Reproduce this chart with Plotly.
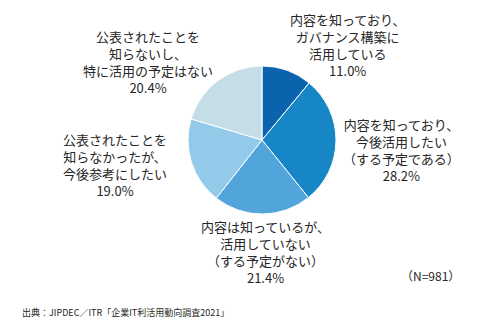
import plotly.graph_objects as go

# Survey answers, clockwise from 12 o'clock
categories = [
    "内容を知っており、<br>ガバナンス構築に<br>活用している",
    "内容を知っており、<br>今後活用したい<br>（する予定である）",
    "内容は知っているが、<br>活用していない<br>（する予定がない）",
    "公表されたことを<br>知らなかったが、<br>今後参考にしたい",
    "公表されたことを<br>知らないし、<br>特に活用の予定はない",
]
shares = [11.0, 28.2, 21.4, 19.0, 20.4]
slice_colors = ["#0b63ad", "#1686c6", "#52a5da", "#93c9e9", "#c5dde7"]

sample_note = "（N=981）"
source_note = "出典：JIPDEC／ITR「企業IT利活用動向調査2021」"

W, H = 500, 324
cx, cy, r = 262, 140, 74  # pie centre and radius in pixels (from top-left)

font_family = "Noto Sans CJK JP, Noto Sans, sans-serif"
text_color = "#262626"

fig = go.Figure(
    go.Pie(
        values=shares,
        labels=[c.replace("<br>", "") for c in categories],
        sort=False,
        direction="clockwise",
        rotation=0,
        marker=dict(colors=slice_colors, line=dict(color="#ffffff", width=1)),
        textinfo="none",
        hoverinfo="label+percent",
        showlegend=False,
        domain=dict(
            x=[(cx - r) / W, (cx + r) / W],
            y=[(H - cy - r) / H, (H - cy + r) / H],
        ),
    )
)

# centre of each label block, in pixels from top-left
label_pos = [(347, 45), (401, 150), (265, 252), (115, 165), (148, 62)]

for text, val, (x, y) in zip(categories, shares, label_pos):
    fig.add_annotation(
        x=x / W, y=1 - y / H, xref="paper", yref="paper",
        xanchor="center", yanchor="middle",
        text=f"{text}<br>{val:.1f}%",
        showarrow=False, align="center",
        font=dict(family=font_family, size=13, color=text_color),
    )

fig.add_annotation(
    x=430 / W, y=1 - 275 / H, xref="paper", yref="paper",
    xanchor="center", yanchor="middle", text=sample_note, showarrow=False,
    font=dict(family=font_family, size=12, color=text_color),
)
fig.add_annotation(
    x=20 / W, y=1 - 312 / H, xref="paper", yref="paper",
    xanchor="left", yanchor="middle", text=source_note, showarrow=False,
    font=dict(family=font_family, size=9, color=text_color),
)

fig.update_layout(
    width=W, height=H,
    margin=dict(l=0, r=0, t=0, b=0),
    paper_bgcolor="#ffffff", plot_bgcolor="#ffffff",
)

fig.write_html("out.html")
